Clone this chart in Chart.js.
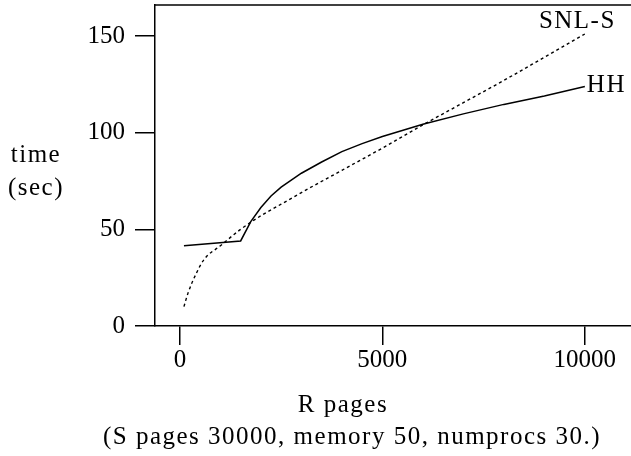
<!DOCTYPE html>
<html lang="en">
<head>
<meta charset="UTF-8">
<title>HH vs SNL-S</title>
<script src="https://cdn.jsdelivr.net/npm/chart.js"></script>
<style>
    html, body { margin: 0; padding: 0; background: #fff; }
    #wrap { width: 631px; height: 456px; }
</style>
</head>
<body>
<div id="wrap"><canvas id="myChart"></canvas></div>

<script>
    // R pages on the x axis, time in seconds on the y axis
    const hhPages  = [100, 1500, 1750, 2000, 2250, 2500, 3000, 3500, 4000, 4500, 5000, 6000, 7000, 8000, 9000, 10000];
    const hhTime   = [41.5, 44, 54, 61.3, 67.2, 71.8, 79, 84.8, 90.2, 94.3, 98, 104.3, 109.7, 114.6, 118.9, 123.8];

    const snlPages = [100, 200, 400, 600, 1000, 1500, 2000, 2500, 3000, 4000, 5000, 6000, 7000, 8000, 9000, 10000];
    const snlTime  = [10, 17, 27, 34.5, 41.5, 50, 57, 63, 69, 80.5, 92, 104, 115.5, 127, 139, 151];

    const xTicks = [0, 5000, 10000];
    const yTicks = [0, 50, 100, 150];

    const FONT = '"Liberation Serif", "DejaVu Serif", serif';

    function toPoints(xs, ys) {
        return xs.map((x, i) => ({ x: x, y: ys[i] }));
    }

    // axis titles, top frame line and curve names
    const textPlugin = {
        id: 'textPlugin',
        afterDraw(chart) {
            const ctx = chart.ctx;
            const area = chart.chartArea;
            ctx.save();
            ctx.strokeStyle = '#000';
            ctx.lineWidth = 1.5;
            ctx.beginPath();
            ctx.moveTo(area.left, area.top);
            ctx.lineTo(area.right, area.top);
            ctx.stroke();

            ctx.fillStyle = '#000';
            ctx.font = '25px ' + FONT;
            ctx.letterSpacing = '1.5px';
            ctx.textBaseline = 'middle';
            ctx.textAlign = 'center';
            ctx.fillText('time', 36, 155);
            ctx.fillText('(sec)', 36, 188);
            ctx.fillText('R pages', 343, 405);
            ctx.fillText('(S pages 30000, memory 50, numprocs 30.)', 352, 437);

            // names at the end of each curve
            const snlEnd = chart.getDatasetMeta(1).data[snlPages.length - 1];
            const hhEnd = chart.getDatasetMeta(0).data[hhPages.length - 1];
            ctx.textAlign = 'right';
            ctx.fillText('SNL-S', snlEnd.x + 31, snlEnd.y - 13);
            ctx.textAlign = 'left';
            ctx.fillText('HH', hhEnd.x + 2, hhEnd.y - 1);
            ctx.restore();
        }
    };

    const ctx = document.getElementById('myChart').getContext('2d');
    const myChart = new Chart(ctx, {
        type: 'line',
        data: {
            datasets: [{
                label: 'HH',
                data: toPoints(hhPages, hhTime),
                borderColor: '#000',
                borderWidth: 1.5,
                pointRadius: 0,
                tension: 0,
                fill: false
            }, {
                label: 'SNL-S',
                data: toPoints(snlPages, snlTime),
                borderColor: '#000',
                borderWidth: 1.4,
                borderDash: [3, 3],
                pointRadius: 0,
                cubicInterpolationMode: 'monotone',
                fill: false
            }]
        },
        options: {
            responsive: true,
            maintainAspectRatio: false,
            animation: false,
            layout: { autoPadding: false, padding: { top: 5, right: 0, left: 0, bottom: 0 } },
            plugins: {
                legend: { display: false },
                tooltip: { enabled: false }
            },
            scales: {
                x: {
                    type: 'linear',
                    min: -615,
                    max: 11140,
                    afterBuildTicks: (scale) => { scale.ticks = xTicks.map(v => ({ value: v })); },
                    afterFit: (scale) => {
                        scale.height = 130;
                        scale.paddingLeft = 0;
                        scale.paddingRight = 0;
                    },
                    grid: { drawOnChartArea: false, drawTicks: true, tickLength: 19, color: '#000', lineWidth: 1.5 },
                    border: { display: true, color: '#000', width: 1.5 },
                    ticks: {
                        color: '#000', font: { family: FONT, size: 25 }, padding: 0, maxRotation: 0,
                        callback: (v) => String(v)
                    }
                },
                y: {
                    type: 'linear',
                    min: 0,
                    max: 166,
                    afterBuildTicks: (scale) => { scale.ticks = yTicks.map(v => ({ value: v })); },
                    afterFit: (scale) => {
                        scale.width = 155;
                        scale.paddingTop = 0;
                        scale.paddingBottom = 0;
                    },
                    grid: { drawOnChartArea: false, drawTicks: true, tickLength: 20, color: '#000', lineWidth: 1.5 },
                    border: { display: true, color: '#000', width: 1.5 },
                    ticks: { color: '#000', font: { family: FONT, size: 25 }, padding: 10, callback: (v) => String(v) }
                }
            }
        },
        plugins: [textPlugin]
    });
</script>
</body>
</html>
